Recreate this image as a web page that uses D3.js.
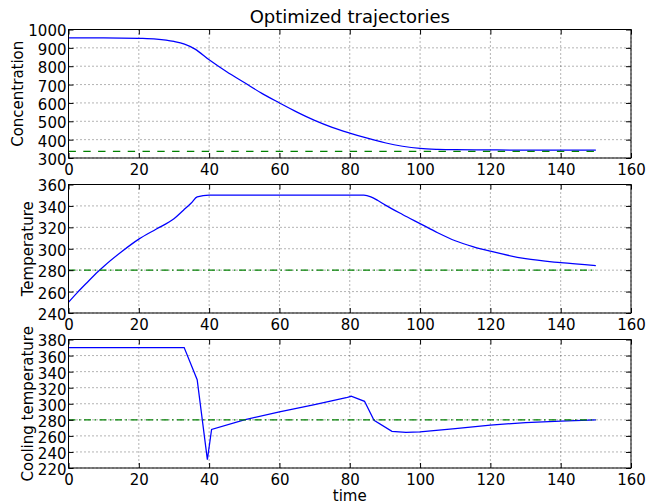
<!DOCTYPE html>
<html lang="en">
<head>
<meta charset="UTF-8">
<title>Optimized trajectories</title>
<style>
  body { margin: 0; background: #fff; }
  svg { display: block; }
</style>
</head>
<body>
<div id="chart"></div>
<script src="https://d3js.org/d3.v7.min.js"></script>
<script>
// values
var timeTicks = [0, 20, 40, 60, 80, 100, 120, 140, 160];

var concTime = [0, 10, 20, 25, 30, 33, 36, 40, 45, 50, 55, 60, 65, 70, 75, 80, 85, 90, 95, 100, 105, 110, 120, 130, 140, 150];
var concValues = [955, 955, 952, 948, 935, 920, 893, 835, 770, 711, 652, 600, 550, 505, 467, 436, 408, 383, 364, 352, 347, 345, 344, 343, 343, 343];
var concTicks = [300, 400, 500, 600, 700, 800, 900, 1000];
var concRef = 336;

var tempTime = [0, 2.5, 5, 8.5, 10, 15, 20, 25, 30, 32.7, 35, 36.6, 40, 84, 86, 88, 90, 95, 100, 105, 110, 115, 120, 130, 140, 150];
var tempValues = [250, 259, 267.5, 279, 283.5, 297, 309, 318.5, 328, 336, 343, 348.4, 350, 350, 348.5, 345, 341, 332, 323.5, 315, 307.5, 302, 297.7, 290.7, 287, 284.3];
var tempTicks = [240, 260, 280, 300, 320, 340, 360];
var tempRef = 280;

var coolTime = [0, 32.9, 36.6, 39.5, 40.7, 50, 60, 70, 79, 80.4, 84.2, 86.9, 92, 96, 100, 110, 120, 130, 140, 150];
var coolValues = [370, 370, 330, 230.5, 268, 280, 290, 299, 307.5, 309.3, 303, 279.4, 265.7, 264.4, 265, 269, 273.5, 276.5, 278.5, 280];
var coolTicks = [220, 240, 260, 280, 300, 320, 340, 360, 380];
var coolRef = 280;

var W = 646, H = 504;
var left = 68.5, right = 631;
var tops = [29.5, 184.5, 339.5];
var ph = 128.5;
var fontSize = 15;

var panels = [
  {time: concTime, values: concValues, ticks: concTicks, ref: concRef, label: "Concentration", dash: "7.4,7.4", smooth: true},
  {time: tempTime, values: tempValues, ticks: tempTicks, ref: tempRef, label: "Temperature", dash: "7,3.5,1.5,3.5", smooth: true},
  {time: coolTime, values: coolValues, ticks: coolTicks, ref: coolRef, label: "Cooling temperature", dash: "7,3.5,1.5,3.5", smooth: false}
];

var svg = d3.select("#chart").append("svg")
    .attr("width", W)
    .attr("height", H)
    .style("font-family", "'DejaVu Sans', sans-serif");

svg.append("rect").attr("width", W).attr("height", H).attr("fill", "#fff");

var x = d3.scaleLinear().domain([0, 160]).range([left, right]);

panels.forEach(function(p, i) {
  var top = tops[i], bottom = top + ph;
  var y = d3.scaleLinear()
      .domain([p.ticks[0], p.ticks[p.ticks.length - 1]])
      .range([bottom, top]);

  var g = svg.append("g");

  // dotted grid
  g.append("g").selectAll("line").data(timeTicks).enter().append("line")
      .attr("x1", d => x(d)).attr("x2", d => x(d))
      .attr("y1", top).attr("y2", bottom)
      .attr("stroke", "#000").attr("stroke-width", 0.6)
      .attr("stroke-dasharray", "1,3");
  g.append("g").selectAll("line").data(p.ticks).enter().append("line")
      .attr("x1", left).attr("x2", right)
      .attr("y1", d => y(d)).attr("y2", d => y(d))
      .attr("stroke", "#000").attr("stroke-width", 0.6)
      .attr("stroke-dasharray", "1,3");

  var line = d3.line()
      .x(d => x(d[0]))
      .y(d => y(d[1]))
      .curve(p.smooth ? d3.curveMonotoneX : d3.curveLinear);

  var pts = p.time.map((t, k) => [t, p.values[k]]);
  g.append("path")
      .attr("d", line(pts))
      .attr("fill", "none")
      .attr("stroke", "#0000ff")
      .attr("stroke-width", 1.25);

  g.append("path")
      .attr("d", line([[p.time[0], p.ref], [p.time[p.time.length - 1], p.ref]]))
      .attr("fill", "none")
      .attr("stroke", "#008000")
      .attr("stroke-width", 1.25)
      .attr("stroke-dasharray", p.dash);

  // axes, ticks pointing inward on all four sides
  g.append("g").attr("transform", "translate(0," + bottom + ")")
      .call(d3.axisBottom(x).tickValues(timeTicks).tickFormat(d3.format("d"))
        .tickSizeInner(-5).tickSizeOuter(0).tickPadding(6));
  g.append("g").attr("transform", "translate(0," + top + ")")
      .call(d3.axisTop(x).tickValues(timeTicks).tickSizeInner(-5).tickSizeOuter(0).tickFormat(""));
  var yl = g.append("g").attr("transform", "translate(" + left + ",0)")
      .call(d3.axisLeft(y).tickValues(p.ticks).tickFormat(d3.format("d"))
        .tickSizeInner(-5).tickSizeOuter(0).tickPadding(2));
  g.append("g").attr("transform", "translate(" + right + ",0)")
      .call(d3.axisRight(y).tickValues(p.ticks).tickSizeInner(-5).tickSizeOuter(0).tickFormat(""));

  g.selectAll(".domain").remove();
  g.selectAll(".tick line").attr("stroke", "#000").attr("stroke-width", 1);
  g.selectAll(".tick text")
      .attr("fill", "#000")
      .style("font-family", "'DejaVu Sans', sans-serif")
      .style("font-size", fontSize + "px");
  yl.selectAll(".tick text").attr("dy", "0.43em");

  g.append("rect")
      .attr("x", left).attr("y", top)
      .attr("width", right - left).attr("height", ph)
      .attr("fill", "none").attr("stroke", "#000").attr("stroke-width", 1);

  // y label sits just left of the widest tick label
  var minX = d3.min(yl.selectAll(".tick text").nodes(), n => n.getBBox().x + left);
  svg.append("text")
      .attr("transform", "translate(" + (minX - 5) + "," + (top + ph / 2) + ") rotate(-90)")
      .attr("text-anchor", "middle")
      .style("font-size", fontSize + "px")
      .text(p.label);
});

svg.append("text")
    .attr("x", (left + right) / 2).attr("y", 22.5)
    .attr("text-anchor", "middle")
    .style("font-size", "18px")
    .text("Optimized trajectories");

svg.append("text")
    .attr("x", (left + right) / 2).attr("y", 501)
    .attr("text-anchor", "middle")
    .style("font-size", fontSize + "px")
    .text("time");
</script>
</body>
</html>
